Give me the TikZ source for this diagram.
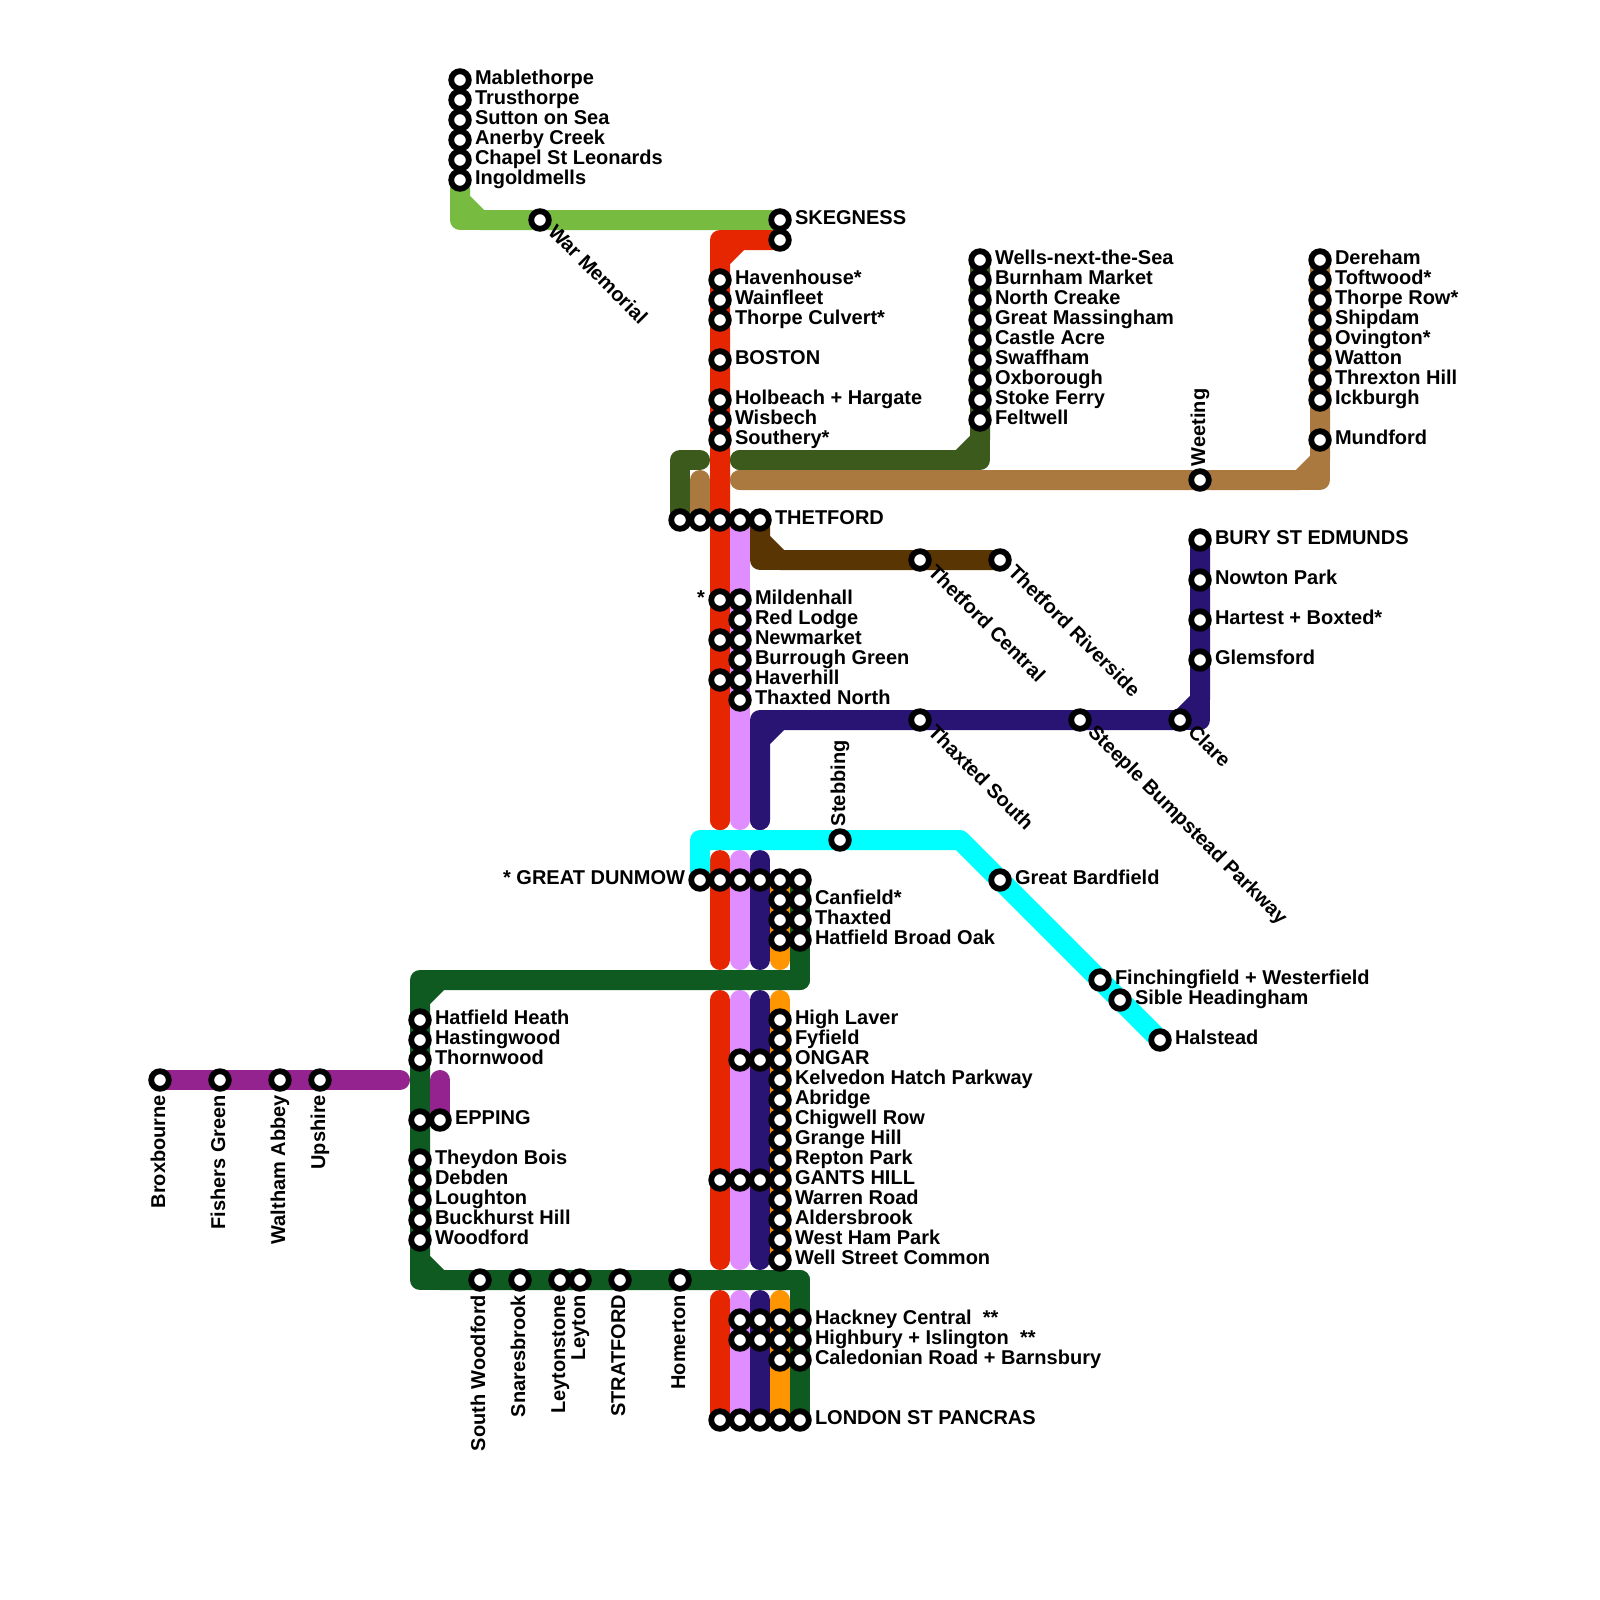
\documentclass[tikz,border=0pt]{standalone}
\usepackage{fontspec}
\setmainfont{Liberation Sans}
\usetikzlibrary{backgrounds}
\definecolor{cred}{HTML}{E52600}
\definecolor{cpink}{HTML}{E08EFF}
\definecolor{cindigo}{HTML}{2A1473}
\definecolor{corange}{HTML}{FF9500}
\definecolor{cforest}{HTML}{0F5A20}
\definecolor{colive}{HTML}{3B5A1C}
\definecolor{cbrown}{HTML}{A9793F}
\definecolor{cdkbrown}{HTML}{5A3504}
\definecolor{clime}{HTML}{77BB41}
\definecolor{cpurple}{HTML}{94228F}
\definecolor{ccyan}{HTML}{00FFFF}
\tikzset{
  ln/.style={line width=20pt,line cap=round,line join=round},
  stn/.style={circle,draw=black,fill=white,line width=5.8pt,minimum size=17.6pt,inner sep=0pt,outer sep=0pt},
  lab/.style={inner sep=0pt,outer sep=0pt,text=black,font=\fontsize{20}{20}\selectfont\bfseries},
}
% station without label
\newcommand{\stnN}[3]{\node[stn] (#1) at (#2,#3) {};}
% station with label on the right
\newcommand{\stnR}[4]{\node[stn] (#1) at (#2,#3) {};\node[lab,anchor=base west] (#1-l) at (#2+15,#3+4.5) {#4};}
% station with label on the left
\newcommand{\stnL}[4]{\node[stn] (#1) at (#2,#3) {};\node[lab,anchor=base east] (#1-l) at (#2-15,#3+4.5) {#4};}
% station with upward label above
\newcommand{\stnU}[4]{\node[stn] (#1) at (#2,#3) {};\node[lab,rotate=90,anchor=base west] (#1-l) at (#2+5,#3-14) {#4};}
% station with upward label below
\newcommand{\stnD}[4]{\node[stn] (#1) at (#2,#3) {};\node[lab,rotate=90,anchor=base east] (#1-l) at (#2+5,#3+15) {#4};}
% station with diagonal label
\newcommand{\stnS}[4]{\node[stn] (#1) at (#2,#3) {};\node[lab,rotate=-45,anchor=base west] (#1-l) at (#2+7,#3+13) {#4};}
\begin{document}
\begin{tikzpicture}[x=1pt,y=-1pt]
\useasboundingbox (0,0) rectangle (1600,1600);
% way points
\coordinate (wLimeC) at (460,220);
\coordinate (wLimeA) at (460,200);
\coordinate (wLimeB) at (480,220);
\coordinate (wRedC) at (720,240);
\coordinate (wRedA) at (740,240);
\coordinate (wRedB) at (720,260);
\coordinate (wRedE1) at (720,820);
\coordinate (wRedS2) at (720,860);
\coordinate (wRedE2) at (720,960);
\coordinate (wRedS3) at (720,1000);
\coordinate (wRedE3) at (720,1260);
\coordinate (wRedS4) at (720,1300);
\coordinate (wPinkE1) at (740,820);
\coordinate (wPinkS2) at (740,860);
\coordinate (wPinkE2) at (740,960);
\coordinate (wPinkS3) at (740,1000);
\coordinate (wPinkE3) at (740,1260);
\coordinate (wPinkS4) at (740,1300);
\coordinate (wIndE1) at (760,820);
\coordinate (wIndA) at (760,740);
\coordinate (wIndC) at (760,720);
\coordinate (wIndB) at (780,720);
\coordinate (wIndD) at (1200,720);
\coordinate (wIndF) at (1200,700);
\coordinate (wIndS2) at (760,860);
\coordinate (wIndE2) at (760,960);
\coordinate (wIndS3) at (760,1000);
\coordinate (wIndE3) at (760,1260);
\coordinate (wIndS4) at (760,1300);
\coordinate (wOrE1) at (780,960);
\coordinate (wOrS2) at (780,1000);
\coordinate (wOrE2) at (780,1260);
\coordinate (wOrS3) at (780,1300);
\coordinate (wFgA) at (800,980);
\coordinate (wFgB) at (440,980);
\coordinate (wFgC) at (420,980);
\coordinate (wFgD) at (420,1000);
\coordinate (wFgE) at (420,1260);
\coordinate (wFgF) at (420,1280);
\coordinate (wFgG) at (440,1280);
\coordinate (wFgH) at (800,1280);
\coordinate (wPurE) at (400,1080);
\coordinate (wPurS) at (440,1080);
\coordinate (wCyA) at (700,840);
\coordinate (wCyB) at (960,840);
\coordinate (wOlA) at (680,460);
\coordinate (wOlB) at (700,460);
\coordinate (wOlC) at (740,460);
\coordinate (wOlD) at (960,460);
\coordinate (wOlE) at (980,460);
\coordinate (wOlF) at (980,440);
\coordinate (wBrA) at (700,480);
\coordinate (wBrB) at (740,480);
\coordinate (wBrC) at (1300,480);
\coordinate (wBrD) at (1320,480);
\coordinate (wBrF) at (1320,460);
\coordinate (wDbC) at (760,560);
\coordinate (wDbA) at (760,540);
\coordinate (wDbB) at (780,560);
% stations
\stnR{mab}{460}{80}{Mablethorpe}
\stnR{tru}{460}{100}{Trusthorpe}
\stnR{sut}{460}{120}{Sutton on Sea}
\stnR{ane}{460}{140}{Anerby Creek}
\stnR{cha}{460}{160}{Chapel St Leonards}
\stnR{ing}{460}{180}{Ingoldmells}
\stnS{war}{540}{220}{War Memorial}
\stnR{ske}{780}{220}{SKEGNESS}
\stnN{ske2}{780}{240}
\stnR{hav}{720}{280}{Havenhouse*}
\stnR{wai}{720}{300}{Wainfleet}
\stnR{thc}{720}{320}{Thorpe Culvert*}
\stnR{bos}{720}{360}{BOSTON}
\stnR{hol}{720}{400}{Holbeach + Hargate}
\stnR{wis}{720}{420}{Wisbech}
\stnR{sou}{720}{440}{Southery*}
\stnR{wel}{980}{260}{Wells-next-the-Sea}
\stnR{bur}{980}{280}{Burnham Market}
\stnR{nor}{980}{300}{North Creake}
\stnR{gma}{980}{320}{Great Massingham}
\stnR{cas}{980}{340}{Castle Acre}
\stnR{swa}{980}{360}{Swaffham}
\stnR{oxb}{980}{380}{Oxborough}
\stnR{sto}{980}{400}{Stoke Ferry}
\stnR{fel}{980}{420}{Feltwell}
\stnR{der}{1320}{260}{Dereham}
\stnR{tof}{1320}{280}{Toftwood*}
\stnR{thr}{1320}{300}{Thorpe Row*}
\stnR{shi}{1320}{320}{Shipdam}
\stnR{ovi}{1320}{340}{Ovington*}
\stnR{wat}{1320}{360}{Watton}
\stnR{thx}{1320}{380}{Threxton Hill}
\stnR{ick}{1320}{400}{Ickburgh}
\stnR{mun}{1320}{440}{Mundford}
\stnU{wee}{1200}{480}{Weeting}
\stnN{tf1}{680}{520}
\stnN{tf2}{700}{520}
\stnN{tf3}{720}{520}
\stnN{tf4}{740}{520}
\stnR{tf5}{760}{520}{THETFORD}
\stnS{tfc}{920}{560}{Thetford Central}
\stnS{tfr}{1000}{560}{Thetford Riverside}
\stnR{bse}{1200}{540}{BURY ST EDMUNDS}
\stnR{now}{1200}{580}{Nowton Park}
\stnR{har}{1200}{620}{Hartest + Boxted*}
\stnR{gle}{1200}{660}{Glemsford}
\stnL{r600}{720}{600}{*}
\stnN{r640}{720}{640}
\stnN{r680}{720}{680}
\stnR{mil}{740}{600}{Mildenhall}
\stnR{red}{740}{620}{Red Lodge}
\stnR{new}{740}{640}{Newmarket}
\stnR{bgr}{740}{660}{Burrough Green}
\stnR{hvh}{740}{680}{Haverhill}
\stnR{txn}{740}{700}{Thaxted North}
\stnS{txs}{920}{720}{Thaxted South}
\stnS{ste}{1080}{720}{Steeple Bumpstead Parkway}
\stnS{cla}{1180}{720}{Clare}
\stnU{stb}{840}{840}{Stebbing}
\stnL{gdu}{700}{880}{* GREAT DUNMOW}
\stnN{g720}{720}{880}
\stnN{g740}{740}{880}
\stnN{g760}{760}{880}
\stnN{g780}{780}{880}
\stnN{g800}{800}{880}
\stnN{c780a}{780}{900}
\stnN{c780b}{780}{920}
\stnN{c780c}{780}{940}
\stnR{can}{800}{900}{Canfield*}
\stnR{tha}{800}{920}{Thaxted}
\stnR{hbo}{800}{940}{Hatfield Broad Oak}
\stnR{gba}{1000}{880}{Great Bardfield}
\stnR{fin}{1100}{980}{Finchingfield + Westerfield}
\stnR{sib}{1120}{1000}{Sible Headingham}
\stnR{hal}{1160}{1040}{Halstead}
\stnR{hhe}{420}{1020}{Hatfield Heath}
\stnR{has}{420}{1040}{Hastingwood}
\stnR{tho}{420}{1060}{Thornwood}
\stnN{epa}{420}{1120}
\stnR{epp}{440}{1120}{EPPING}
\stnR{the}{420}{1160}{Theydon Bois}
\stnR{deb}{420}{1180}{Debden}
\stnR{lou}{420}{1200}{Loughton}
\stnR{buc}{420}{1220}{Buckhurst Hill}
\stnR{woo}{420}{1240}{Woodford}
\stnD{bro}{160}{1080}{Broxbourne}
\stnD{fis}{220}{1080}{Fishers Green}
\stnD{wab}{280}{1080}{Waltham Abbey}
\stnD{ups}{320}{1080}{Upshire}
\stnD{swd}{480}{1280}{South Woodford}
\stnD{sna}{520}{1280}{Snaresbrook}
\stnD{lst}{560}{1280}{Leytonstone}
\stnD{ley}{580}{1280}{Leyton}
\stnD{str}{620}{1280}{STRATFORD}
\stnD{hom}{680}{1280}{Homerton}
\stnR{hla}{780}{1020}{High Laver}
\stnR{fyf}{780}{1040}{Fyfield}
\stnN{o740}{740}{1060}
\stnN{o760}{760}{1060}
\stnR{ong}{780}{1060}{ONGAR}
\stnR{kel}{780}{1080}{Kelvedon Hatch Parkway}
\stnR{abr}{780}{1100}{Abridge}
\stnR{chi}{780}{1120}{Chigwell Row}
\stnR{gra}{780}{1140}{Grange Hill}
\stnR{rep}{780}{1160}{Repton Park}
\stnN{h720}{720}{1180}
\stnN{h740}{740}{1180}
\stnN{h760}{760}{1180}
\stnR{gan}{780}{1180}{GANTS HILL}
\stnR{wrr}{780}{1200}{Warren Road}
\stnR{ald}{780}{1220}{Aldersbrook}
\stnR{whp}{780}{1240}{West Ham Park}
\stnR{wsc}{780}{1260}{Well Street Common}
\stnN{a740}{740}{1320}
\stnN{a760}{760}{1320}
\stnN{a780}{780}{1320}
\stnR{hac}{800}{1320}{Hackney Central\ \ **}
\stnN{b740}{740}{1340}
\stnN{b760}{760}{1340}
\stnN{b780}{780}{1340}
\stnR{hig}{800}{1340}{Highbury + Islington\ \ **}
\stnN{c780}{780}{1360}
\stnR{cal}{800}{1360}{Caledonian Road + Barnsbury}
\stnN{l720}{720}{1420}
\stnN{l740}{740}{1420}
\stnN{l760}{760}{1420}
\stnN{l780}{780}{1420}
\stnR{lon}{800}{1420}{LONDON ST PANCRAS}
\begin{scope}[on background layer]
% lime
\draw[ln,clime] (ing.center) -- (wLimeC) -- (ske.center);
\draw[ln,clime] (ing.center) -- (wLimeA) -- (wLimeB) -- (ske.center);
% red
\draw[ln,cred] (ske2.center) -- (wRedC) -- (wRedE1);
\draw[ln,cred] (ske2.center) -- (wRedA) -- (wRedB) -- (wRedE1);
\draw[ln,cred] (wRedS2) -- (wRedE2);
\draw[ln,cred] (wRedS3) -- (wRedE3);
\draw[ln,cred] (wRedS4) -- (l720.center);
% pink
\draw[ln,cpink] (tf4.center) -- (wPinkE1);
\draw[ln,cpink] (wPinkS2) -- (wPinkE2);
\draw[ln,cpink] (wPinkS3) -- (wPinkE3);
\draw[ln,cpink] (wPinkS4) -- (l740.center);
% indigo
\draw[ln,cindigo] (wIndE1) -- (wIndC) -- (wIndD) -- (bse.center);
\draw[ln,cindigo] (wIndE1) -- (wIndA) -- (wIndB) -- (cla.center) -- (wIndF) -- (bse.center);
\draw[ln,cindigo] (wIndS2) -- (wIndE2);
\draw[ln,cindigo] (wIndS3) -- (wIndE3);
\draw[ln,cindigo] (wIndS4) -- (l760.center);
% orange
\draw[ln,corange] (g780.center) -- (wOrE1);
\draw[ln,corange] (wOrS2) -- (wOrE2);
\draw[ln,corange] (wOrS3) -- (l780.center);
% forest
\draw[ln,cforest] (g800.center) -- (wFgA) -- (wFgC) -- (wFgF) -- (wFgH) -- (lon.center);
\draw[ln,cforest] (wFgA) -- (wFgB) -- (wFgD) -- (wFgE) -- (wFgG) -- (wFgH);
% purple
\draw[ln,cpurple] (bro.center) -- (wPurE);
\draw[ln,cpurple] (wPurS) -- (epp.center);
% cyan
\draw[ln,ccyan] (gdu.center) -- (wCyA) -- (wCyB) -- (hal.center);
% olive
\draw[ln,colive] (tf1.center) -- (wOlA) -- (wOlB);
\draw[ln,colive] (wOlC) -- (wOlE) -- (wel.center);
\draw[ln,colive] (wOlC) -- (wOlD) -- (wOlF) -- (wel.center);
% brown
\draw[ln,cbrown] (tf2.center) -- (wBrA);
\draw[ln,cbrown] (wBrB) -- (wBrD) -- (der.center);
\draw[ln,cbrown] (wBrB) -- (wBrC) -- (wBrF) -- (der.center);
% dark brown
\draw[ln,cdkbrown] (tf5.center) -- (wDbC) -- (tfr.center);
\draw[ln,cdkbrown] (tf5.center) -- (wDbA) -- (wDbB) -- (tfr.center);
\end{scope}
\end{tikzpicture}
\end{document}
